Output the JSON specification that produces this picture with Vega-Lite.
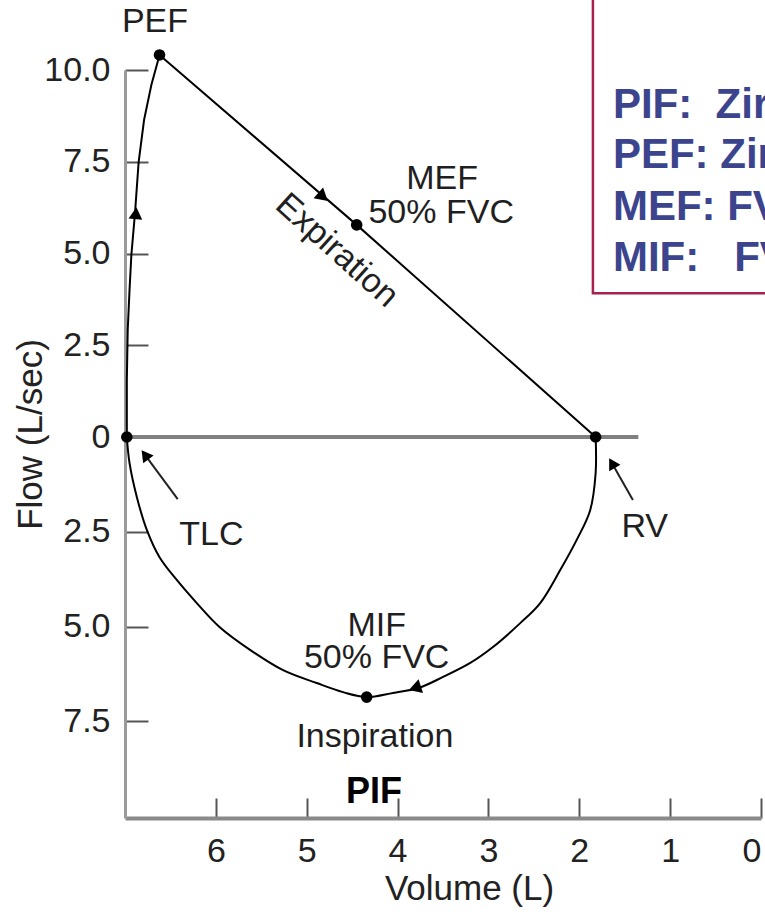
{
  "$schema": "https://vega.github.io/schema/vega-lite/v6.json",
  "width": 636,
  "height": 748,
  "autosize": {"type": "none"},
  "padding": {"left": 125, "top": 70, "right": 4, "bottom": 96},
  "background": "white",
  "config": {"view": {"stroke": null}, "font": "Liberation Sans"},
  "datasets": {
    "expiration": [
      {"i": 1, "vol": 6.98, "flow": 0},
      {"i": 2, "vol": 6.98, "flow": 1.55},
      {"i": 3, "vol": 6.97, "flow": 2.92},
      {"i": 4, "vol": 6.95, "flow": 4.01},
      {"i": 5, "vol": 6.93, "flow": 4.96},
      {"i": 6, "vol": 6.89, "flow": 6.10},
      {"i": 7, "vol": 6.85, "flow": 7.49},
      {"i": 8, "vol": 6.79, "flow": 8.64},
      {"i": 9, "vol": 6.71, "flow": 9.59},
      {"i": 10, "vol": 6.62, "flow": 10.41},
      {"i": 11, "vol": 4.45, "flow": 5.78},
      {"i": 12, "vol": 1.82, "flow": 0}
    ],
    "inspiration": [
      {"i": 1, "vol": 1.82, "flow": 0},
      {"i": 2, "vol": 1.82, "flow": -0.95},
      {"i": 3, "vol": 1.88, "flow": -1.93},
      {"i": 4, "vol": 2.03, "flow": -2.72},
      {"i": 5, "vol": 2.21, "flow": -3.51},
      {"i": 6, "vol": 2.43, "flow": -4.38},
      {"i": 7, "vol": 2.65, "flow": -4.91},
      {"i": 8, "vol": 2.95, "flow": -5.54},
      {"i": 9, "vol": 3.20, "flow": -5.96},
      {"i": 10, "vol": 3.50, "flow": -6.33},
      {"i": 11, "vol": 3.77, "flow": -6.62},
      {"i": 12, "vol": 4.05, "flow": -6.75},
      {"i": 13, "vol": 4.34, "flow": -6.86},
      {"i": 14, "vol": 4.60, "flow": -6.73},
      {"i": 15, "vol": 4.89, "flow": -6.49},
      {"i": 16, "vol": 5.26, "flow": -6.15},
      {"i": 17, "vol": 5.62, "flow": -5.62},
      {"i": 18, "vol": 5.96, "flow": -5.01},
      {"i": 19, "vol": 6.21, "flow": -4.38},
      {"i": 20, "vol": 6.43, "flow": -3.77},
      {"i": 21, "vol": 6.62, "flow": -3.17},
      {"i": 22, "vol": 6.76, "flow": -2.45},
      {"i": 23, "vol": 6.87, "flow": -1.58},
      {"i": 24, "vol": 6.95, "flow": -0.69},
      {"i": 25, "vol": 6.98, "flow": 0}
    ],
    "dots": [
      {"name": "TLC", "vol": 6.98, "flow": 0},
      {"name": "PEF", "vol": 6.62, "flow": 10.41},
      {"name": "MEF", "vol": 4.45, "flow": 5.78},
      {"name": "RV", "vol": 1.82, "flow": 0},
      {"name": "PIF", "vol": 4.34, "flow": -6.86}
    ],
    "arrows": [
      {"name": "up", "vol": 6.88, "flow": 6.10},
      {"name": "exp", "vol": 4.82, "flow": 6.54},
      {"name": "insp", "vol": 3.81, "flow": -6.62}
    ],
    "pointers": [
      {"name": "TLC", "vol": 6.42, "flow": -1.64, "vol2": 6.78, "flow2": -0.47},
      {"name": "RV", "vol": 1.41, "flow": -1.66, "vol2": 1.64, "flow2": -0.69}
    ],
    "labels": [
      {"label": "PEF", "vol": 6.67, "flow": 11.31},
      {"label": "MEF", "vol": 3.51, "flow": 7.02},
      {"label": "50% FVC", "vol": 3.52, "flow": 6.10},
      {"label": "TLC", "vol": 6.05, "flow": -2.59},
      {"label": "RV", "vol": 1.28, "flow": -2.37},
      {"label": "MIF", "vol": 4.23, "flow": -4.98},
      {"label": "50% FVC", "vol": 4.23, "flow": -5.83},
      {"label": "Inspiration", "vol": 4.25, "flow": -7.92}
    ],
    "rotated": [{"label": "Expiration", "vol": 4.67, "flow": 5.08}],
    "bold": [{"label": "PIF", "vol": 4.26, "flow": -9.37}],
    "notes": [
      {"label": "PIF:\u00a0\u00a0Zirve inspiratuar akım", "vol": 1.63, "flow": 8.69},
      {"label": "PEF:\u00a0Zirve ekspiratuar akım", "vol": 1.63, "flow": 7.33},
      {"label": "MEF:\u00a0FVC'nin %50'sinde ekspiratuar akım", "vol": 1.63, "flow": 5.91},
      {"label": "MIF:\u00a0\u00a0\u00a0FVC'nin %50'sinde inspiratuar akım", "vol": 1.63, "flow": 4.52}
    ],
    "box": [{"vol": 1.85, "vol2": -0.3, "flow": 3.92, "flow2": 12.5}],
    "zero": [{"vol": 7, "vol2": 1.35, "flow": 0}]
  },
  "encoding": {
    "x": {
      "field": "vol", "type": "quantitative",
      "scale": {"domain": [0, 7], "reverse": true, "nice": false, "zero": false},
      "axis": {
        "values": [0, 1, 2, 3, 4, 5, 6],
        "grid": false,
        "title": "Volume (L)",
        "domainColor": "#8a8a8a", "domainWidth": 4,
        "tickColor": "#555555", "tickWidth": 2, "tickSize": -20,
        "labelFontSize": 34, "labelColor": "#222222", "labelPadding": 36,
        "labelFont": "Liberation Sans",
        "titleFont": "Liberation Sans", "titleFontSize": 35, "titleFontWeight": "normal", "titleColor": "#222222",
        "titleX": 344, "titleY": 70, "titleBaseline": "middle", "titleAlign": "center"
      }
    },
    "y": {
      "field": "flow", "type": "quantitative",
      "scale": {"domain": [-10.05, 0, 10], "range": [748, 367, 0], "nice": false, "zero": false},
      "axis": {
        "values": [-7.5, -5, -2.5, 0, 2.5, 5, 7.5, 10],
        "labelExpr": "datum.value == 0 ? '0' : format(abs(datum.value), '.1f')",
        "grid": false,
        "title": "Flow (L/sec)",
        "domainColor": "#9a9a9a", "domainWidth": 3,
        "tickColor": "#555555", "tickWidth": 2, "tickSize": -23,
        "labelFontSize": 34, "labelColor": "#222222", "labelPadding": 38,
        "labelFont": "Liberation Sans",
        "titleFont": "Liberation Sans", "titleFontSize": 35, "titleFontWeight": "normal", "titleColor": "#222222",
        "titleX": -95, "titleY": 364, "titleAngle": -90, "titleBaseline": "middle", "titleAlign": "center"
      }
    }
  },
  "layer": [
    {
      "data": {"name": "zero"},
      "mark": {"type": "rule", "color": "#808080", "strokeWidth": 4},
      "encoding": {"x2": {"field": "vol2"}}
    },
    {
      "data": {"name": "box"},
      "mark": {"type": "rect", "fill": null, "fillOpacity": 0, "stroke": "#a8204e", "strokeWidth": 2.5, "clip": false},
      "encoding": {"x2": {"field": "vol2"}, "y2": {"field": "flow2"}}
    },
    {
      "data": {"name": "expiration"},
      "mark": {"type": "line", "color": "black", "strokeWidth": 2},
      "encoding": {"order": {"field": "i", "type": "quantitative"}}
    },
    {
      "data": {"name": "inspiration"},
      "mark": {"type": "line", "color": "black", "strokeWidth": 2, "interpolate": "catmull-rom"},
      "encoding": {"order": {"field": "i", "type": "quantitative"}}
    },
    {
      "data": {"name": "dots"},
      "mark": {"type": "point", "filled": true, "color": "black", "size": 135, "opacity": 1}
    },
    {
      "data": {"name": "arrows"},
      "transform": [{"filter": "datum.name == 'up'"}],
      "mark": {"type": "point", "shape": "triangle-up", "angle": 5, "filled": true, "color": "black", "size": 190, "opacity": 1}
    },
    {
      "data": {"name": "arrows"},
      "transform": [{"filter": "datum.name == 'exp'"}],
      "mark": {"type": "point", "shape": "triangle-right", "angle": 41, "filled": true, "color": "black", "size": 210, "opacity": 1}
    },
    {
      "data": {"name": "arrows"},
      "transform": [{"filter": "datum.name == 'insp'"}],
      "mark": {"type": "point", "shape": "triangle-left", "angle": 342, "filled": true, "color": "black", "size": 210, "opacity": 1}
    },
    {
      "data": {"name": "pointers"},
      "mark": {"type": "rule", "color": "#222222", "strokeWidth": 2},
      "encoding": {"x2": {"field": "vol2"}, "y2": {"field": "flow2"}}
    },
    {
      "data": {"name": "pointers"},
      "transform": [{"filter": "datum.name == 'TLC'"}],
      "mark": {"type": "point", "shape": "triangle-up", "angle": 323, "filled": true, "color": "black", "size": 170, "opacity": 1},
      "encoding": {"x": {"field": "vol2", "type": "quantitative"}, "y": {"field": "flow2", "type": "quantitative"}}
    },
    {
      "data": {"name": "pointers"},
      "transform": [{"filter": "datum.name == 'RV'"}],
      "mark": {"type": "point", "shape": "triangle-up", "angle": 330, "filled": true, "color": "black", "size": 170, "opacity": 1},
      "encoding": {"x": {"field": "vol2", "type": "quantitative"}, "y": {"field": "flow2", "type": "quantitative"}}
    },
    {
      "data": {"name": "labels"},
      "mark": {"type": "text", "align": "center", "baseline": "middle", "fontSize": 34, "color": "#1f1f1f", "font": "Liberation Sans"},
      "encoding": {"text": {"field": "label"}}
    },
    {
      "data": {"name": "rotated"},
      "mark": {"type": "text", "align": "center", "baseline": "middle", "fontSize": 34, "angle": 42, "color": "#1f1f1f", "font": "Liberation Sans"},
      "encoding": {"text": {"field": "label"}}
    },
    {
      "data": {"name": "bold"},
      "mark": {"type": "text", "align": "center", "baseline": "middle", "fontSize": 36, "fontWeight": "bold", "color": "black", "font": "Liberation Sans"},
      "encoding": {"text": {"field": "label"}}
    },
    {
      "data": {"name": "notes"},
      "mark": {"type": "text", "align": "left", "baseline": "alphabetic", "fontSize": 42, "fontWeight": "bold", "color": "#3c448e", "font": "Liberation Sans"},
      "encoding": {"text": {"field": "label"}}
    }
  ]
}
